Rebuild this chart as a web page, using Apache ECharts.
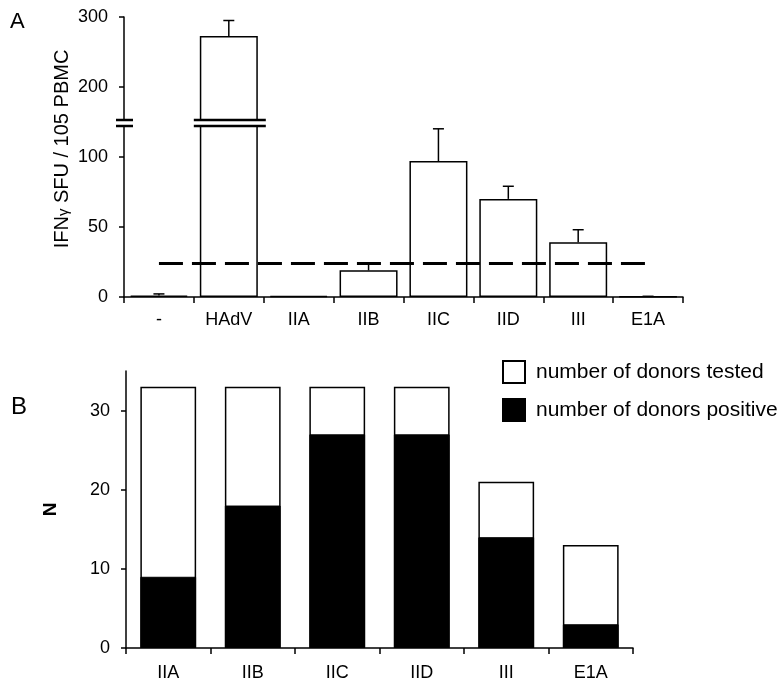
<!DOCTYPE html>
<html>
<head>
<meta charset="utf-8">
<script src="https://cdn.jsdelivr.net/npm/echarts@6/dist/echarts.min.js"></script>
<style>html,body{margin:0;padding:0;background:#fff}#c{width:778px;height:682px}</style>
</head>
<body>
<div id="c"></div>
<script>
// ---- Panel A data ----
const catsA = ['-', 'HAdV', 'IIA', 'IIB', 'IIC', 'IID', 'III', 'E1A'];
const meanA = [1, 273, 0.8, 19, 97, 70, 39, 0.2];
const errA = [1.2, 22, 0, 4.5, 23, 9, 9, 0.3];
const cutoffA = 24;
const lowTicksA = [0, 50, 100];
const highTicksA = [200, 300];
const lowMaxA = 122;
const highMinA = 153;
const highMaxA = 300;

// ---- Panel B data ----
const catsB = ['IIA', 'IIB', 'IIC', 'IID', 'III', 'E1A'];
const testedB = [33, 33, 33, 33, 21, 13];
const positiveB = [9, 18, 27, 27, 14, 3];
const ticksB = [0, 10, 20, 30];

const FONT = 'Liberation Sans, Arial, sans-serif';
const chart = echarts.init(document.getElementById('c'), null, {renderer: 'canvas'});

function errItem(params, api) {
  const i = api.value(0), m = api.value(1), e = api.value(2);
  if (!e) return null;
  const p0 = api.coord([i, m]);
  const p1 = api.coord([i, m + e]);
  const st = {stroke: '#000', lineWidth: 1.5};
  return {type: 'group', children: [
    {type: 'line', shape: {x1: p0[0], y1: p0[1], x2: p1[0], y2: p1[1]}, style: st},
    {type: 'line', shape: {x1: p1[0] - 5.5, y1: p1[1], x2: p1[0] + 5.5, y2: p1[1]}, style: st}
  ]};
}

const axisLabelBase = {color: '#000', fontSize: 18, fontFamily: FONT};
const axisLineBase = {lineStyle: {color: '#000', width: 1.5}};

const errData = catsA.map((c, i) => [i, meanA[i], errA[i]]);

const option = {
  animation: false,
  backgroundColor: '#fff',
  textStyle: {fontFamily: FONT},
  grid: [
    {left: 124, right: 95, top: 126, height: 171},   // A lower
    {left: 124, right: 95, top: 17, height: 103},    // A upper
    {left: 126, right: 145, top: 371, bottom: 34}    // B
  ],
  xAxis: [
    {type: 'category', gridIndex: 0, data: catsA, axisLine: axisLineBase,
     axisTick: {show: true, length: 6, lineStyle: {color: '#000', width: 1.5}},
     axisLabel: Object.assign({margin: 14, interval: 0}, axisLabelBase)},
    {type: 'category', gridIndex: 1, data: catsA, show: false},
    {type: 'category', gridIndex: 2, data: catsB, axisLine: axisLineBase,
     axisTick: {show: true, length: 6, lineStyle: {color: '#000', width: 1.5}},
     axisLabel: Object.assign({margin: 16, interval: 0}, axisLabelBase)}
  ],
  yAxis: [
    {type: 'value', gridIndex: 0, min: 0, max: lowMaxA, splitLine: {show: false},
     axisLine: Object.assign({show: true}, axisLineBase),
     axisTick: {show: true, length: 5, customValues: lowTicksA, lineStyle: {color: '#000', width: 1.5}},
     axisLabel: Object.assign({margin: 16, customValues: lowTicksA}, axisLabelBase)},
    {type: 'value', gridIndex: 1, min: highMinA, max: highMaxA, splitLine: {show: false},
     axisLine: Object.assign({show: true}, axisLineBase),
     axisTick: {show: true, length: 5, customValues: highTicksA, lineStyle: {color: '#000', width: 1.5}},
     axisLabel: Object.assign({margin: 16, customValues: highTicksA}, axisLabelBase)},
    {type: 'value', gridIndex: 2, min: 0, max: 35, splitLine: {show: false},
     axisLine: Object.assign({show: true}, axisLineBase),
     axisTick: {show: true, length: 5, customValues: ticksB, lineStyle: {color: '#000', width: 1.5}},
     axisLabel: Object.assign({margin: 16, customValues: ticksB}, axisLabelBase),
     name: 'N', nameLocation: 'middle', nameRotate: 90, nameGap: 66,
     nameTextStyle: {color: '#000', fontSize: 19, fontWeight: 'bold', fontFamily: FONT}}
  ],
  legend: {
    show: true, orient: 'vertical', left: 502, top: 360, padding: 0,
    itemWidth: 22, itemHeight: 22, itemGap: 14, icon: 'rect',
    data: ['number of donors tested', 'number of donors positive'],
    textStyle: {color: '#000', fontSize: 21, fontFamily: FONT, padding: [0, 0, 0, 6]}
  },
  series: [
    {type: 'bar', name: 'A low', xAxisIndex: 0, yAxisIndex: 0, data: meanA,
     barWidth: '83%', clip: true,
     itemStyle: {color: '#fff', borderColor: '#000', borderWidth: 1.5},
     markLine: {silent: true, symbol: 'none', label: {show: false},
       lineStyle: {color: '#000', width: 3, type: [24, 9]},
       data: [[{coord: [catsA[0], cutoffA]}, {coord: [catsA[catsA.length - 1], cutoffA]}]]}},
    {type: 'bar', name: 'A high', xAxisIndex: 1, yAxisIndex: 1,
     data: meanA.map(v => v > highMinA ? v : '-'),
     barWidth: '83%', clip: true,
     itemStyle: {color: '#fff', borderColor: '#000', borderWidth: 1.5}},
    {type: 'custom', name: 'A err low', xAxisIndex: 0, yAxisIndex: 0, clip: true,
     renderItem: errItem, encode: {x: 0, y: 1}, z: 3,
     data: errData.filter(d => d[1] + d[2] <= lowMaxA)},
    {type: 'custom', name: 'A err high', xAxisIndex: 1, yAxisIndex: 1, clip: true,
     renderItem: errItem, encode: {x: 0, y: 1}, z: 3,
     data: errData.filter(d => d[1] > highMinA)},
    {type: 'bar', name: 'number of donors tested', xAxisIndex: 2, yAxisIndex: 2, data: testedB,
     barWidth: '66%', barGap: '-100%',
     itemStyle: {color: '#fff', borderColor: '#000', borderWidth: 1.5}},
    {type: 'bar', name: 'number of donors positive', xAxisIndex: 2, yAxisIndex: 2, data: positiveB,
     barWidth: '66%', barGap: '-100%',
     itemStyle: {color: '#000', borderColor: '#000', borderWidth: 1}}
  ]
};
chart.setOption(option);

// Decorations: panel letters, axis title, axis-break marks
const yHighBottom = chart.convertToPixel({yAxisIndex: 1}, highMinA);
const yLowTop = chart.convertToPixel({yAxisIndex: 0}, lowMaxA);
const c0 = chart.convertToPixel({xAxisIndex: 0}, catsA[0]);
const c1 = chart.convertToPixel({xAxisIndex: 0}, catsA[1]);
const band = c1 - c0;
const axisX = c0 - band / 2;
const brk = (x1, x2, y) => ({type: 'line', shape: {x1: x1, y1: y, x2: x2, y2: y},
  style: {stroke: '#000', lineWidth: 2.5}, z: 10});
chart.setOption({
  graphic: [
    {type: 'text', left: 10, top: 11, style: {text: 'A', fill: '#000', font: '22px ' + FONT}},
    {type: 'text', left: 11, top: 395, style: {text: 'B', fill: '#000', font: '24px ' + FONT}},
    {type: 'text', x: 62, y: 149, rotation: Math.PI / 2,
     style: {text: '{a|IFN}{g|γ}{a| SFU / 105 PBMC}', align: 'center', verticalAlign: 'middle',
       rich: {a: {fontSize: 20, fontFamily: FONT, fill: '#000'},
              g: {fontSize: 15, fontFamily: FONT, fill: '#000', padding: [4, 0, 0, 0]}}}},
    brk(axisX - 8, axisX + 9, yHighBottom),
    brk(axisX - 8, axisX + 9, yLowTop),
    brk(c1 - 35, c1 + 37, yHighBottom),
    brk(c1 - 35, c1 + 37, yLowTop)
  ]
});
</script>
</body>
</html>
